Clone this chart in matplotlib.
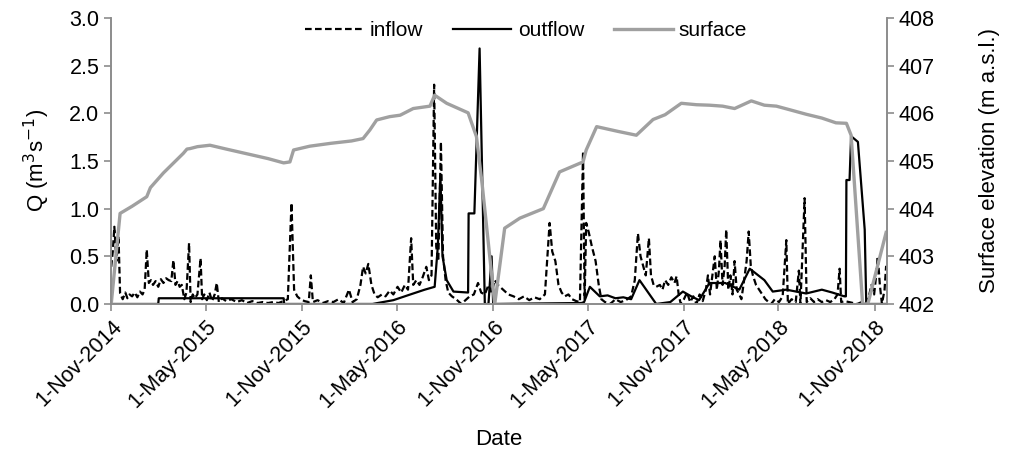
import datetime as dt

import matplotlib

matplotlib.use("Agg")
import matplotlib.pyplot as plt

plt.rcParams["font.family"] = ["Liberation Sans", "DejaVu Sans"]

start = dt.date(2014, 11, 1)

# inflow (dashed), day offset from 1-Nov-2014 and Q (m3/s)
inflow_day = [0, 3, 6, 10, 14, 17, 22, 27, 31, 35, 40, 45, 50, 55, 60, 64, 68, 72, 76, 80,
              85, 90, 95, 100, 105, 110, 115, 119, 123, 127, 131, 135, 140, 144, 149, 152, 156, 160, 165, 171,
              174, 178, 183, 188, 193, 198, 202, 206, 212, 220, 230, 240, 250, 260, 270, 280, 290, 300, 310, 320,
              330, 338, 345, 350, 356, 362, 370, 378, 382, 386, 395, 405, 415, 425, 435, 445, 455, 462, 470, 477,
              482, 487, 492, 498, 504, 510, 518, 525, 533, 540, 548, 555, 562, 568, 574, 578, 584, 590, 596, 603,
              608, 613, 618, 622, 626, 631, 635, 640, 645, 652, 660, 670, 678, 686, 694, 702, 708, 715, 722, 728,
              734, 740, 750, 760, 770, 780, 790, 800, 810, 820, 830, 839, 844, 850, 856, 862, 868, 875, 882, 890,
              897, 903, 906, 909, 914, 920, 927, 933, 938, 945, 955, 965, 975, 985, 995, 1002, 1008, 1013, 1018, 1023,
              1029, 1033, 1038, 1043, 1050, 1055, 1060, 1066, 1072, 1078, 1082, 1086, 1090, 1096, 1102, 1108, 1114, 1120, 1126, 1132,
              1138, 1142, 1146, 1150, 1155, 1159, 1163, 1166, 1170, 1174, 1177, 1181, 1185, 1189, 1193, 1197, 1202, 1206, 1210, 1216,
              1220, 1224, 1228, 1234, 1240, 1246, 1252, 1258, 1263, 1270, 1278, 1285, 1292, 1295, 1302, 1310, 1316, 1319, 1327, 1331,
              1338, 1345, 1352, 1360, 1368, 1376, 1384, 1390, 1394, 1397, 1404, 1412, 1420, 1428, 1436, 1444, 1450, 1455, 1460, 1464,
              1467, 1471, 1475, 1480, 1483]
inflow_q = [0.39, 0.55, 0.81, 0.45, 0.71, 0.11, 0.05, 0.12, 0.06, 0.10, 0.08, 0.12, 0.07, 0.13, 0.10, 0.15, 0.57, 0.22, 0.25, 0.20,
            0.24, 0.18, 0.26, 0.22, 0.27, 0.25, 0.24, 0.46, 0.20, 0.24, 0.18, 0.20, 0.05, 0.12, 0.64, 0.02, 0.10, 0.06, 0.10, 0.48,
            0.05, 0.10, 0.04, 0.12, 0.03, 0.10, 0.22, 0.02, 0.06, 0.03, 0.05, 0.02, 0.04, 0.01, 0.03, 0.01, 0.02, 0.01, 0.02, 0.01,
            0.03, 0.05, 1.06, 0.15, 0.08, 0.05, 0.03, 0.02, 0.30, 0.02, 0.04, 0.01, 0.03, 0.02, 0.05, 0.01, 0.15, 0.02, 0.05, 0.20,
            0.39, 0.32, 0.42, 0.20, 0.10, 0.07, 0.10, 0.08, 0.14, 0.10, 0.18, 0.12, 0.20, 0.15, 0.69, 0.20, 0.25, 0.20, 0.28, 0.39,
            0.25, 0.30, 2.30, 0.60, 0.45, 1.70, 0.50, 0.25, 0.12, 0.08, 0.05, 0.00, 0.04, 0.08, 0.10, 0.22, 0.12, 0.10, 0.20, 0.12,
            0.25, 0.20, 0.15, 0.10, 0.08, 0.05, 0.08, 0.04, 0.07, 0.05, 0.10, 0.85, 0.55, 0.45, 0.20, 0.12, 0.08, 0.10, 0.05, 0.03,
            0.02, 1.60, 0.05, 0.85, 0.75, 0.60, 0.45, 0.20, 0.05, 0.02, 0.00, 0.05, 0.02, 0.04, 0.08, 0.25, 0.74, 0.50, 0.40, 0.30,
            0.69, 0.30, 0.20, 0.18, 0.20, 0.15, 0.25, 0.20, 0.28, 0.22, 0.29, 0.10, 0.00, 0.05, 0.12, 0.02, 0.08, 0.00, 0.10, 0.03,
            0.15, 0.30, 0.10, 0.28, 0.50, 0.15, 0.35, 0.67, 0.20, 0.40, 0.78, 0.15, 0.30, 0.10, 0.45, 0.15, 0.10, 0.05, 0.20, 0.45,
            0.76, 0.40, 0.30, 0.20, 0.15, 0.10, 0.05, 0.02, 0.00, 0.05, 0.02, 0.08, 0.67, 0.00, 0.05, 0.02, 0.35, 0.00, 1.11, 0.02,
            0.06, 0.02, 0.05, 0.02, 0.04, 0.02, 0.05, 0.10, 0.37, 0.02, 0.03, 0.02, 0.01, 0.00, 0.02, 0.00, 0.08, 0.20, 0.10, 0.30,
            0.50, 0.20, 0.00, 0.15, 0.40]

# outflow (solid black)
outflow_day = [0, 90, 91, 330, 331, 500, 540, 578, 600, 619, 625, 630, 634, 642, 655, 683, 684, 695, 705, 715,
               722, 728, 731, 900, 905, 916, 935, 950, 965, 980, 995, 1011, 1043, 1070, 1094, 1110, 1125, 1145, 1175, 1202,
               1222, 1250, 1266, 1292, 1330, 1360, 1380, 1403, 1406, 1407, 1413, 1416, 1429, 1442, 1445, 1483]
outflow_q = [0.0, 0.0, 0.06, 0.06, 0.0, 0.0, 0.04, 0.11, 0.15, 0.18, 0.60, 1.35, 0.50, 0.25, 0.13, 0.12, 0.95, 0.95, 2.68, 0.0,
             0.0, 0.50, 0.0, 0.01, 0.02, 0.18, 0.08, 0.09, 0.06, 0.07, 0.05, 0.25, 0.0, 0.02, 0.13, 0.08, 0.04, 0.22, 0.22, 0.15,
             0.37, 0.25, 0.13, 0.15, 0.11, 0.15, 0.12, 0.08, 0.08, 1.30, 1.30, 1.76, 1.70, 0.78, 0.0, 0.0]

# surface elevation (m a.s.l.)
surface_day = [0, 17, 40, 68, 75, 100, 138, 145, 151, 165, 189, 220, 260, 300, 330, 342, 349, 380, 420, 460,
               482, 495, 508, 533, 553, 578, 610, 619, 642, 683, 699, 710, 734, 753, 782, 827, 858, 903, 909, 929,
               970, 1005, 1037, 1060, 1091, 1120, 1145, 1170, 1193, 1225, 1250, 1273, 1300, 1330, 1360, 1387, 1407, 1416, 1438, 1448,
               1483]
surface_z = [402.0, 403.9, 404.05, 404.25, 404.44, 404.75, 405.16, 405.25, 405.26, 405.3, 405.33, 405.25, 405.15, 405.05, 404.96, 404.98, 405.23, 405.31, 405.37, 405.42,
             405.47, 405.65, 405.86, 405.93, 405.96, 406.10, 406.15, 406.38, 406.21, 406.01, 405.51, 404.5, 402.0, 403.59, 403.8, 404.0, 404.77, 404.98, 405.23, 405.72,
             405.62, 405.54, 405.87, 405.97, 406.21, 406.18, 406.17, 406.15, 406.10, 406.26, 406.17, 406.15, 406.07, 405.98, 405.9, 405.80, 405.79, 405.54, 402.0, 402.0,
             403.5]

tick_dates = [dt.date(2014, 11, 1), dt.date(2015, 5, 1), dt.date(2015, 11, 1), dt.date(2016, 5, 1),
              dt.date(2016, 11, 1), dt.date(2017, 5, 1), dt.date(2017, 11, 1), dt.date(2018, 5, 1),
              dt.date(2018, 11, 1)]


def to_dates(days):
    return [start + dt.timedelta(days=d) for d in days]


grey = "#8c8c8c"
fs = 15.5

fig = plt.figure(figsize=(10.11, 4.49), dpi=100)
ax = fig.add_axes([0.11, 0.323, 0.767, 0.637])
ax2 = ax.twinx()

l1, = ax.plot(to_dates(inflow_day), inflow_q, color="black", ls=(0, (3, 1.5)), lw=1.6, label="inflow")
l2, = ax.plot(to_dates(outflow_day), outflow_q, color="black", lw=1.6, label="outflow")
l3, = ax2.plot(to_dates(surface_day), surface_z, color="#a0a0a0", lw=2.4, label="surface")

ax.set_xlim(start, start + dt.timedelta(days=1484))
ax.set_ylim(0, 3.0)
ax.set_yticks([0, 0.5, 1.0, 1.5, 2.0, 2.5, 3.0])
ax.set_yticklabels(["%.1f" % v for v in ax.get_yticks()])
ax2.set_ylim(402, 408)
ax2.set_yticks(range(402, 409))

ax.set_xticks(tick_dates)
ax.set_xticklabels([f"{d.day}-{d:%b-%Y}" for d in tick_dates], rotation=45, ha="right",
                   rotation_mode="anchor")

for a in (ax, ax2):
    a.spines["top"].set_visible(False)
    for s in ("left", "right", "bottom"):
        a.spines[s].set_color(grey)
        a.spines[s].set_linewidth(1.2)
    a.tick_params(colors=grey, labelcolor="black", labelsize=fs, length=5, width=1.2)

ax.set_ylabel("Q (m$^3$s$^{-1}$)", fontsize=16, labelpad=12)
ax2.set_ylabel("Surface elevation (m a.s.l.)", fontsize=16, labelpad=32)
ax.set_xlabel("Date", fontsize=16, labelpad=12)

ax2.legend(handles=[l1, l2, l3], loc="upper center", bbox_to_anchor=(0.535, 1.055), ncol=3,
           frameon=False, fontsize=15, handlelength=2.8, columnspacing=1.45, handletextpad=0.3)

fig.savefig("out.png", dpi=100)
